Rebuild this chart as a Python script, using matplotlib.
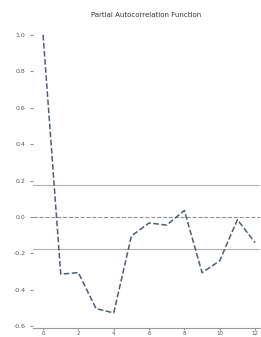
import matplotlib
matplotlib.use("Agg")
import matplotlib.pyplot as plt

lags = list(range(13))
pacf = [1.0, -0.314, -0.306, -0.504, -0.527, -0.105, -0.033, -0.045, 0.036, -0.306, -0.241, -0.015, -0.141]
conf = 0.178
yticks = [1.0, 0.8, 0.6, 0.4, 0.2, 0.0, -0.2, -0.4, -0.6]
xticks = [0, 2, 4, 6, 8, 10, 12]
title = "Partial Autocorrelation Function"

W, H = 261, 337
fig = plt.figure(figsize=(W / 100, H / 100), dpi=100)
ax = fig.add_axes([33 / W, 1 - 328 / H, (260 - 33) / W, (328 - 25) / H])

ax.axhline(conf, color="#b0b0b0", lw=0.8)
ax.axhline(-conf, color="#b0b0b0", lw=0.8)
ax.axhline(0, color="#909090", lw=0.8, ls="--")
ax.plot(lags, pacf, color="#4c5c7c", lw=1.1, ls="--")

ax.set_xlim(-0.57, 12.28)
ax.set_ylim(-0.61, 1.054)
ax.set_yticks(yticks)
ax.set_yticklabels([f"{v:.1f}" for v in yticks])
ax.set_xticks(xticks)
for s in ["top", "right", "left"]:
    ax.spines[s].set_visible(False)
ax.spines["bottom"].set_color("#999999")
ax.tick_params(axis="both", labelsize=4.5, colors="#555555", length=2, width=0.5)
ax.tick_params(axis="x", labelsize=4, pad=0.5, length=1.5)
ax.set_title(title, fontsize=5, color="#333333", pad=6)

fig.savefig("out.png", dpi=100)
